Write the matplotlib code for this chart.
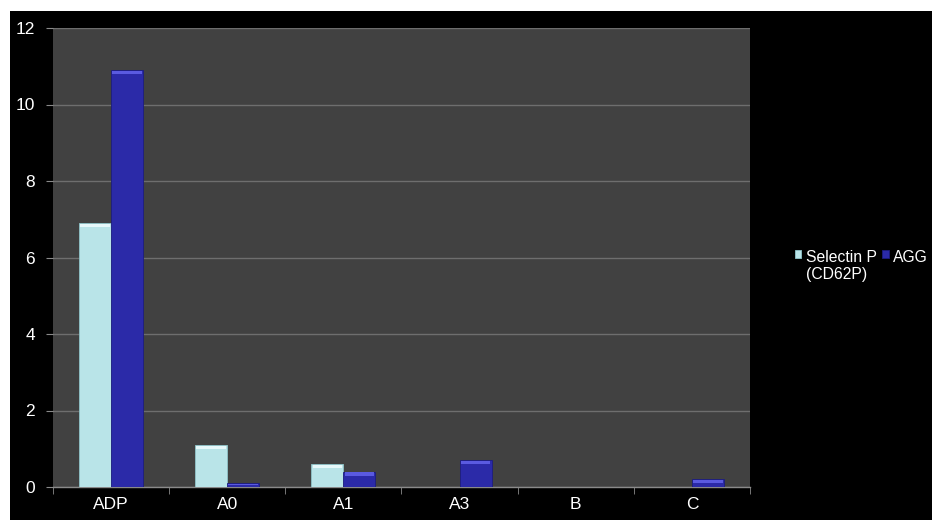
import matplotlib
matplotlib.use("Agg")
import matplotlib.pyplot as plt
from matplotlib.patches import Rectangle
import numpy as np

categories = ["ADP", "A0", "A1", "A3", "B", "C"]
selectin_p = [6.9, 1.1, 0.6, 0.0, 0.0, 0.0]
agg = [10.9, 0.1, 0.4, 0.7, 0.0, 0.2]
series_names = ["Selectin P\n(CD62P)", "AGG"]
y_ticks = [0, 2, 4, 6, 8, 10, 12]

plt.rcParams["font.family"] = ["Liberation Sans", "DejaVu Sans"]

fig = plt.figure(figsize=(9.32, 5.2), dpi=100, facecolor="white")
# black slide background with a thin white border at top and left
bg = fig.add_axes([10 / 932, 0, 1 - 10 / 932, 1 - 11 / 520], zorder=0)
bg.set_facecolor("black")
bg.set_xticks([])
bg.set_yticks([])
for s in bg.spines.values():
    s.set_visible(False)

ax = fig.add_axes([53 / 932, 33 / 520, 697 / 932, 459 / 520], zorder=2)
ax.set_facecolor("#414141")

x = np.arange(len(categories))
w = 0.276
b1 = ax.bar(x - w / 2, selectin_p, width=w, color="#b9e4e8", edgecolor="#8fc4c9",
            linewidth=0.6, zorder=3, label=series_names[0])
b2 = ax.bar(x + w / 2, agg, width=w, color="#2b2aa8", edgecolor="#1c1c80",
            linewidth=0.6, zorder=3, label=series_names[1])

# light top caps for a bevelled look
for bars, cap in ((b1, "#e6f8fa"), (b2, "#5a5ae0")):
    for r in bars:
        h = r.get_height()
        if h > 0:
            ch = min(0.08, h * 0.4)
            ax.add_patch(Rectangle((r.get_x() + 0.01, h - ch - 0.02), r.get_width() - 0.02, ch,
                                   facecolor=cap, edgecolor="none", zorder=4))

ax.set_xlim(-0.5, len(categories) - 0.5)
ax.set_ylim(0, 12)
ax.set_yticks(y_ticks)
ax.set_yticklabels([str(t) for t in y_ticks], fontsize=12.5, color="white")
ax.set_xticks(x)
ax.set_xticklabels(categories, fontsize=12.5, color="white")
ax.set_xticks(np.arange(len(categories) + 1) - 0.5, minor=True)
ax.tick_params(axis="x", which="major", length=0, pad=7)
ax.tick_params(axis="x", which="minor", length=5, color="#8a8a8a", direction="out")
ax.tick_params(axis="y", length=5, color="#8a8a8a", pad=8)

ax.grid(axis="y", color="#6e6e6e", linewidth=1, zorder=1)
for s in ("top", "right", "left"):
    ax.spines[s].set_visible(False)
ax.spines["bottom"].set_color("#8a8a8a")
ax.spines["bottom"].set_linewidth(1)

leg = fig.legend(handles=[b1, b2], labels=series_names, ncol=2, frameon=False,
                 loc="upper left", bbox_to_anchor=(795 / 932, 1 - 250 / 520),
                 handlelength=0.4, handleheight=0.4, handletextpad=0.3,
                 columnspacing=0.35, fontsize=11.3, labelcolor="white",
                 borderpad=0, borderaxespad=0)
leg.set_zorder(5)
# put each marker beside the first line of its label, all entries top-aligned
leg._legend_handle_box.align = "top"
for col in leg._legend_handle_box.get_children():
    col.align = "top"
    for item in col.get_children():
        item.align = "top"

fig.savefig("out.png", dpi=100, facecolor=fig.get_facecolor())
